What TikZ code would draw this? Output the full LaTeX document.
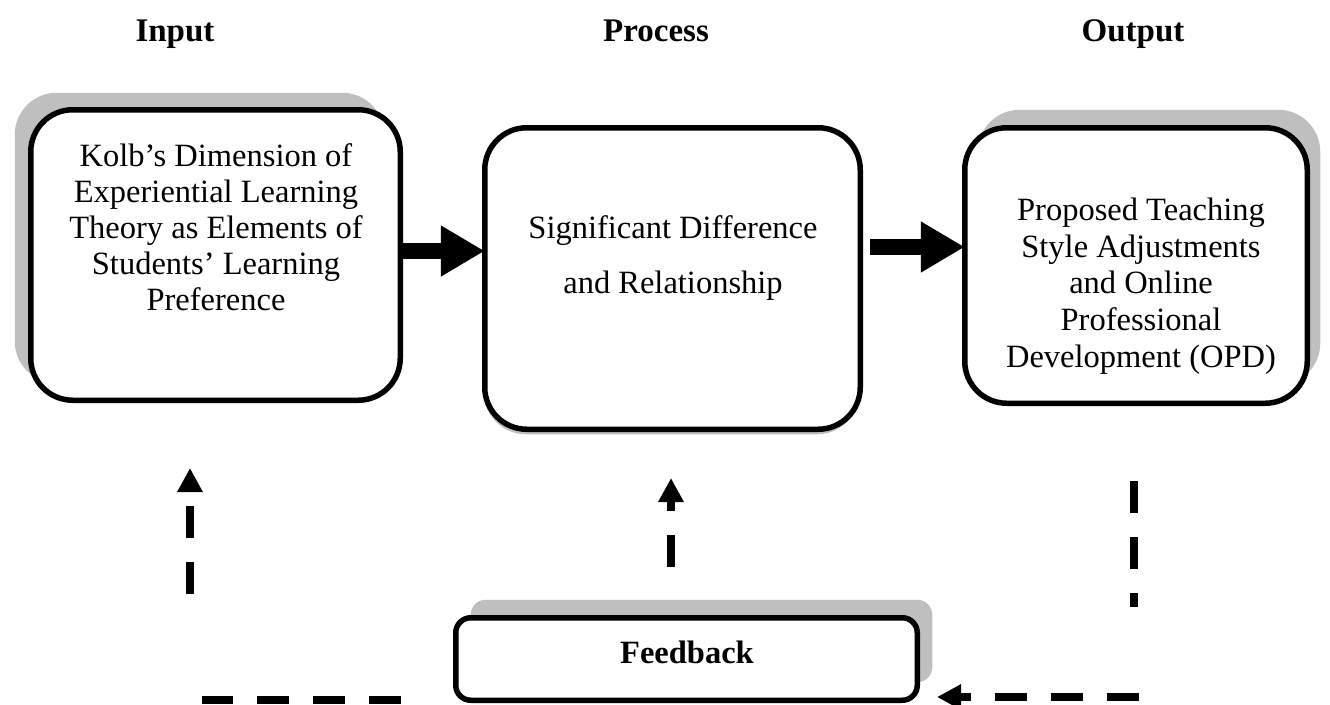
\documentclass[tikz,border=0pt]{standalone}
\usepackage{fontspec}
\setmainfont{Liberation Serif}
\usetikzlibrary{arrows.meta,shadows}
\definecolor{shadowgray}{HTML}{BFBFBF}
\begin{document}
\begin{tikzpicture}[x=1pt,y=-1pt,
  box/.style={draw=black, line width=5.5pt, rounded corners=42pt, fill=white,
    inner sep=0pt, outer sep=0pt},
  body/.style={font=\fontsize{32.5}{36}\selectfont, align=center, inner sep=0pt},
  title/.style={font=\fontsize{33}{36}\selectfont\bfseries, inner sep=0pt, anchor=base},
  bigarrow/.style={line width=16pt, -{Triangle[length=44pt,width=48pt]}},
  fb/.style={line width=8pt, dash pattern=on 32pt off 24pt},
  fbarrow/.style={fb, -{Triangle[length=24pt,width=24pt]}},
]
\useasboundingbox[fill=white] (0,0) rectangle (1330,704);

% titles
\node[title] (hin)  at (175,41)  {Input};
\node[title] (hpro) at (656,41)  {Process};
\node[title] (hout) at (1133,41) {Output};

% boxes
\node[box, minimum width=369.5pt, minimum height=290.5pt,
  drop shadow={shadow xshift=-16pt, shadow yshift=17pt, fill=shadowgray, opacity=1}]
  (k1) at (215.5,255) {};
\node[box, minimum width=375.5pt, minimum height=301.5pt,
  drop shadow={shadow xshift=-1pt, shadow yshift=-5pt, fill=shadowgray, opacity=1}]
  (sd) at (672.5,278.5) {};
\node[box, minimum width=342.5pt, minimum height=275.5pt,
  drop shadow={shadow xshift=13pt, shadow yshift=18pt, fill=shadowgray, opacity=1}]
  (pt) at (1136,265.5) {};
\node[box, rounded corners=15pt, minimum width=461.5pt, minimum height=82.5pt,
  drop shadow={shadow xshift=15pt, shadow yshift=18pt, fill=shadowgray, opacity=1}]
  (fbk) at (686.5,659) {};

% texts
\node[body, anchor=north] (t1) at (216,143.8)
  {Kolb’s Dimension of\\Experiential Learning\\Theory as Elements of\\Students’ Learning\\Preference};
\node[body, anchor=north] (t2) at (673,215.8)
  {Significant Difference\\[19pt]and Relationship};
\node[body, anchor=north, font=\fontsize{32.5}{36.7}\selectfont] (t3) at (1141,197.8)
  {Proposed Teaching\\Style Adjustments\\and Online\\Professional\\Development (OPD)};
\node[title, font=\fontsize{32.5}{36}\selectfont\bfseries] (t4) at (687,663) {Feedback};

% main arrows
\coordinate (a1) at (0,251);
\coordinate (a2s) at (870,247);
\draw[bigarrow] (k1.east |- a1) -- (sd.west |- a1);
\draw[bigarrow] (a2s) -- (pt.west |- a2s);

% feedback lines
\coordinate (l1s) at (190,594);
\coordinate (l1e) at (190,468);
\coordinate (m1s) at (671,567);
\coordinate (m1e) at (671,478);
\coordinate (r1s) at (1134,481);
\coordinate (r1e) at (1134,607);
\coordinate (b2s) at (1139,697);
\coordinate (b2e) at (937,697);
\coordinate (b1s) at (401,700);
\coordinate (b1e) at (202,700);
\draw[fbarrow] (l1s) -- (l1e);
\draw[fbarrow] (m1s) -- (m1e);
\draw[fb] (r1s) -- (r1e);
\draw[fbarrow] (b2s) -- (b2e);
\draw[fb] (b1s) -- (b1e);
\end{tikzpicture}
\end{document}
